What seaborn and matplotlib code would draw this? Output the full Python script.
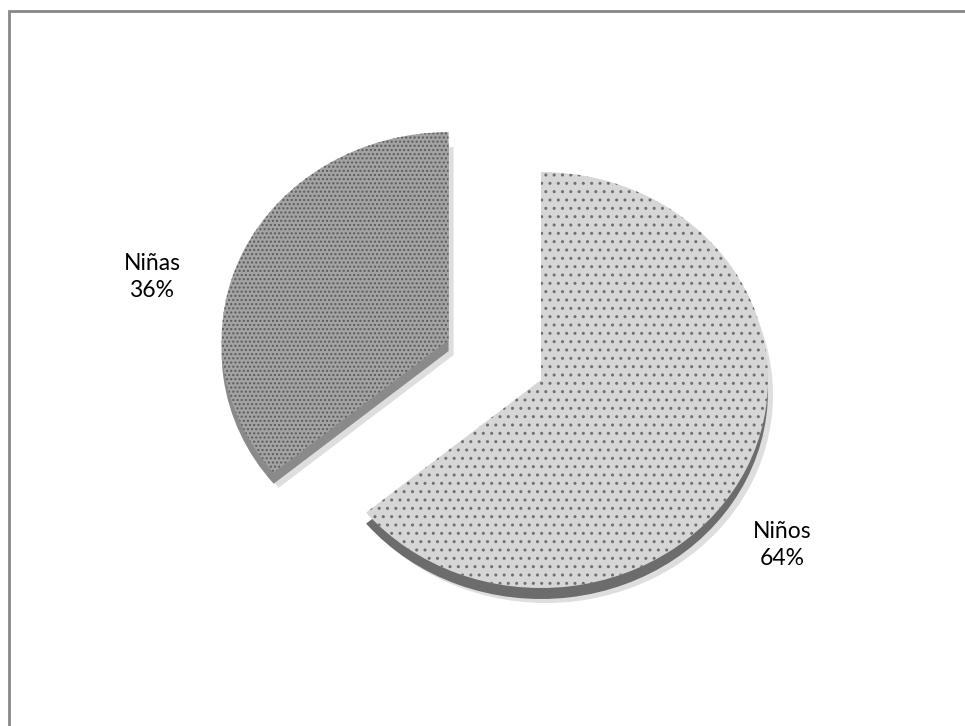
import matplotlib
matplotlib.use("Agg")
import matplotlib.pyplot as plt
import seaborn as sns
from matplotlib.patches import Rectangle

sns.set_theme(style="white")
plt.rcParams["font.family"] = ["Lato", "DejaVu Sans"]
plt.rcParams["hatch.linewidth"] = 1.0

# Data
categories = ["Niños", "Niñas"]
values = [64, 36]
top_colors = ["#d6d6d6", "#a3a3a3"]
dot_colors = ["#707070", "#5a5a5a"]
side_colors = ["#6c6c6c", "#8a8a8a"]
hatches = ["..", "...."]
explode = [0.0, 0.45]

W, H = 965, 726
fig = plt.figure(figsize=(W / 100, H / 100), dpi=100)
ax = fig.add_axes([0, 0, 1, 1])

# Pie centre and radii in pixels (elliptical, tilted look)
cx, cy = 541, 380
rx, ry = 227, 208
thick = 11 / ry


def frame_axes():
    ax.set_xlim(-cx / rx, (W - cx) / rx)
    ax.set_ylim(-(H - cy) / ry, cy / ry)
    ax.set_aspect("auto")
    ax.axis("off")


# soft shadow
ax.pie(values, explode=explode, startangle=90, counterclock=False,
       colors=["#c8c8c8", "#c8c8c8"], center=(5 / rx, -thick - 4 / ry),
       wedgeprops=dict(linewidth=0, alpha=0.6), frame=False)
# side face
ax.pie(values, explode=explode, startangle=90, counterclock=False,
       colors=side_colors, center=(0, -thick),
       wedgeprops=dict(linewidth=0), frame=False)
# top face
wedges, _ = ax.pie(values, explode=explode, startangle=90, counterclock=False,
                   colors=top_colors, wedgeprops=dict(linewidth=0), frame=False)
for w, h, dc in zip(wedges, hatches, dot_colors):
    w.set_hatch(h)
    w.set_edgecolor(dc)
    w.set_linewidth(0)

frame_axes()

# labels
label_pos = {"Niñas": (152, 277), "Niños": (782, 545)}
for name, val in zip(categories, values):
    px, py = label_pos[name]
    ax.text((px - cx) / rx, (cy - py) / ry, f"{name}\n{val}%",
            ha="center", va="center", fontsize=16.5, color="#000000",
            linespacing=1.35)

# chart border
fig.patches.append(Rectangle((8.5 / W, -0.1), 1.2, 1.1 - 11.5 / H,
                             transform=fig.transFigure, fill=False,
                             edgecolor="#878787", linewidth=2.0))

fig.savefig("out.png", dpi=100)
